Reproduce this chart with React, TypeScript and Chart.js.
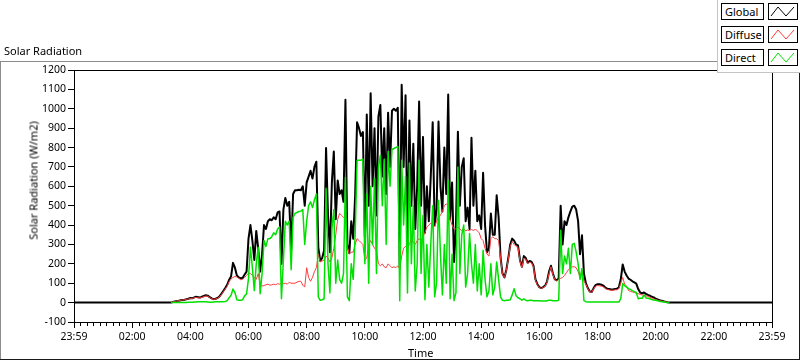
import React, { useEffect, useRef } from 'react';
import { Chart, registerables } from 'chart.js';

Chart.register(...registerables);

// Sample times: START_MIN + i * STEP_MIN (minutes after midnight)
const START_MIN = 200;
const STEP_MIN = 4;

const globalValues = [
  0, 3, 6, 9, 10, 12, 14, 15, 17, 20,
  24, 22, 27, 30, 28, 26, 30, 34, 38, 36,
  28, 22, 18, 20, 24, 32, 45, 60, 75, 92,
  118, 135, 205, 180, 140, 130, 125, 128, 145, 160,
  330, 400, 320, 220, 370, 280, 160, 250, 400, 380,
  420, 430, 425, 440, 430, 465, 470, 200, 480, 540,
  500, 520, 270, 560, 580, 580, 582, 580, 600, 500,
  620, 650, 680, 640, 700, 727, 285, 215, 230, 270,
  798, 450, 260, 620, 779, 430, 630, 560, 580, 520,
  1046, 300, 255, 420, 330, 550, 930, 900, 860, 880,
  340, 970, 500, 1080, 600, 900, 450, 960, 1020, 650,
  900, 560, 980, 700, 990, 1000, 990, 1005, 180, 1124,
  700, 1070, 300, 940, 500, 820, 380, 600, 1037, 500,
  855, 360, 600, 420, 650, 930, 400, 480, 934, 600,
  470, 800, 560, 1073, 430, 620, 210, 400, 882, 500,
  700, 745, 420, 490, 380, 850, 500, 680, 420, 450,
  380, 670, 400, 260, 280, 460, 350, 350, 554, 440,
  233, 150, 130, 170, 230, 300, 330, 320, 300, 295,
  220, 185, 240, 230, 205, 215, 210, 190, 120, 95,
  80, 75, 80, 88, 110, 160, 190, 150, 120, 115,
  125, 500, 300, 420, 400, 440, 470, 495, 500, 480,
  420, 250, 347, 150, 100, 75, 57, 55, 75, 90,
  95, 95, 92, 88, 78, 72, 70, 68, 68, 70,
  72, 78, 120, 197, 160, 140, 124, 118, 110, 104,
  98, 70, 52, 48, 52, 45, 40, 36, 30, 27,
  20, 16, 12, 10, 7, 4, 2, 0,
];

const diffuseValues = [
  0, 3, 6, 9, 10, 12, 14, 15, 16, 19,
  22, 21, 25, 27, 25, 24, 27, 31, 34, 33,
  26, 20, 17, 19, 22, 29, 41, 56, 70, 85,
  108, 122, 130, 135, 132, 125, 118, 120, 130, 140,
  152, 150, 140, 130, 120, 150, 95, 85, 88, 92,
  95, 90, 92, 95, 92, 98, 95, 100, 98, 100,
  95, 105, 100, 100, 100, 105, 110, 110, 90, 80,
  180, 130, 110, 130, 160, 180, 250, 210, 215, 220,
  240, 230, 210, 230, 280, 350, 430, 460, 450, 440,
  430, 290, 250, 260, 260, 300, 330, 320, 310, 300,
  220, 230, 300, 320, 300, 280, 270, 200, 190, 200,
  185, 180, 200, 190, 180, 185, 180, 190, 175, 240,
  280, 290, 280, 300, 330, 310, 300, 320, 330, 320,
  340, 360, 390, 400, 410, 400, 390, 420, 440, 450,
  470, 500, 510, 500, 430, 400, 380, 380, 390, 380,
  370, 380, 370, 375, 370, 380, 370, 380, 370, 360,
  330, 320, 280, 250, 240, 330, 340, 330, 330, 320,
  230, 145, 130, 165, 225, 290, 315, 300, 290, 285,
  215, 180, 230, 225, 200, 210, 205, 185, 115, 92,
  78, 73, 78, 85, 105, 150, 185, 145, 118, 112,
  120, 125, 130, 140, 155, 170, 180, 185, 185, 180,
  160, 130, 166, 110, 95, 72, 55, 53, 72, 85,
  88, 87, 85, 82, 72, 68, 66, 64, 64, 66,
  66, 72, 100, 130, 95, 85, 62, 58, 55, 52,
  48, 46, 42, 40, 38, 35, 32, 28, 24, 20,
  16, 13, 10, 8, 6, 4, 2, 0,
];

const directValues = [
  0, 0, 0, 0, 0, 0, 1, 1, 1, 2,
  2, 2, 3, 3, 5, 4, 4, 4, 4, 3,
  2, 2, 3, 4, 4, 5, 5, 5, 6, 10,
  25, 38, 70, 52, 15, 12, 12, 15, 35, 45,
  125, 285, 180, 62, 200, 285, 46, 150, 320, 290,
  330, 330, 340, 360, 350, 380, 390, 20, 220, 420,
  400, 420, 170, 440, 460, 465, 470, 472, 480, 300,
  420, 500, 520, 490, 530, 560, 30, 12, 15, 20,
  590, 200, 50, 380, 480, 100, 220, 120, 100, 150,
  647, 30, 10, 200, 120, 350, 735, 735, 735, 740,
  200, 560, 100, 600, 300, 640, 150, 700, 760, 500,
  740, 300, 780, 600, 790, 795, 800, 805, 10, 735,
  400, 650, 50, 720, 200, 500, 60, 200, 735, 150,
  450, 15, 300, 80, 300, 500, 30, 100, 528, 250,
  40, 300, 100, 630, 20, 250, 10, 50, 700, 150,
  350, 400, 80, 150, 356, 200, 100, 300, 60, 200,
  40, 270, 120, 30, 60, 200, 40, 80, 210, 120,
  30, 12, 10, 12, 12, 15, 40, 72, 35, 25,
  20, 12, 20, 12, 10, 12, 12, 10, 10, 10,
  10, 8, 8, 8, 10, 12, 12, 10, 10, 10,
  12, 373, 150, 240, 200, 280, 150, 300, 306, 260,
  200, 120, 176, 10, 5, 3, 3, 3, 3, 3,
  3, 3, 3, 3, 3, 3, 3, 3, 3, 3,
  3, 3, 20, 98, 88, 80, 72, 68, 62, 57,
  52, 20, 22, 22, 40, 24, 22, 20, 16, 14,
  12, 10, 7, 5, 4, 2, 1, 0,
];

const xTickMinutes = [0, 120, 240, 360, 480, 600, 720, 840, 960, 1080, 1200, 1320, 1440];
const xTickLabels = ['23:59', '02:00', '04:00', '06:00', '08:00', '10:00', '12:00', '14:00', '16:00', '18:00', '20:00', '22:00', '23:59'];
const X_MINOR_PER_MAJOR = 9;

const Y_MIN = -100;
const Y_MAX = 1200;
const Y_STEP = 100;

const seriesNames = ['Global', 'Diffuse', 'Direct'];
const seriesColors = ['#000000', '#ff3c3c', '#00e000'];

const FONT = "'Noto Sans', sans-serif";

function toPoints(vals: number[]) {
  return vals.map((v, i) => ({ x: START_MIN + i * STEP_MIN, y: v }));
}

const framePlugin = {
  id: 'labviewFrame',
  afterDraw(chart: any) {
    const ctx = chart.ctx;
    const xs = chart.scales.x;
    const { left, top, right, bottom } = chart.chartArea;
    ctx.save();
    ctx.strokeStyle = '#000';
    ctx.lineWidth = 1;
    ctx.beginPath();
    for (let m = 0; m < xTickMinutes.length - 1; m++) {
      const a = xTickMinutes[m];
      const b = xTickMinutes[m + 1];
      for (let k = 1; k < X_MINOR_PER_MAJOR; k++) {
        const v = a + ((b - a) * k) / X_MINOR_PER_MAJOR;
        const px = Math.round(xs.getPixelForValue(v)) + 0.5;
        ctx.moveTo(px, bottom);
        ctx.lineTo(px, bottom + 4);
      }
    }
    ctx.stroke();
    ctx.strokeRect(Math.round(left) + 0.5, Math.round(top) + 0.5, Math.round(right - left), Math.round(bottom - top));
    ctx.restore();
  },
};

export default function App() {
  const canvasRef = useRef<HTMLCanvasElement>(null);

  useEffect(() => {
    document.body.style.margin = '0';
    const canvas = canvasRef.current;
    if (!canvas) return;
    const chart = new Chart(canvas, {
      type: 'line',
      data: {
        datasets: [
          {
            label: seriesNames[2],
            data: toPoints(directValues),
            borderColor: seriesColors[2],
            borderWidth: 1.5,
            order: 1,
          },
          {
            label: seriesNames[1],
            data: toPoints(diffuseValues),
            borderColor: seriesColors[1],
            borderWidth: 1,
            order: 2,
          },
          {
            label: seriesNames[0],
            data: [
              { x: xTickMinutes[0], y: 0 },
              ...toPoints(globalValues),
              { x: xTickMinutes[xTickMinutes.length - 1], y: 0 },
            ],
            borderColor: seriesColors[0],
            borderWidth: 2,
            order: 3,
          },
        ] as any,
      },
      options: {
        animation: false,
        responsive: false,
        devicePixelRatio: 1,
        layout: { padding: { left: 0, top: 70, right: 28, bottom: 0 } },
        plugins: {
          legend: { display: false },
          tooltip: { enabled: false },
          title: { display: false },
        },
        elements: {
          point: { radius: 0 },
          line: { tension: 0, borderJoinStyle: 'round' as any },
        },
        scales: {
          x: {
            type: 'linear',
            min: xTickMinutes[0],
            max: xTickMinutes[xTickMinutes.length - 1],
            afterBuildTicks: (s: any) => {
              s.ticks = xTickMinutes.map((v) => ({ value: v }));
            },
            afterFit: (s: any) => {
              s.height = 39;
            },
            ticks: {
              autoSkip: false,
              maxRotation: 0,
              minRotation: 0,
              color: '#000',
              font: { family: FONT, size: 10.5 },
              padding: 3,
              callback: (_v: any, i: number) => xTickLabels[i],
            },
            grid: { drawOnChartArea: false, drawTicks: true, tickLength: 6, color: '#000' },
            border: { display: true, color: '#000' },
          },
          y: {
            type: 'linear',
            min: Y_MIN,
            max: Y_MAX,
            afterBuildTicks: (s: any) => {
              const t = [];
              for (let v = Y_MIN; v <= Y_MAX; v += Y_STEP) t.push({ value: v });
              s.ticks = t;
            },
            afterFit: (s: any) => {
              s.width = 74;
            },
            ticks: {
              color: '#000',
              font: { family: FONT, size: 10.5 },
              padding: 2,
              callback: (v: any) => String(v),
            },
            grid: { drawOnChartArea: false, drawTicks: true, tickLength: 6, color: '#000' },
            border: { display: true, color: '#000' },
          },
        },
      } as any,
      plugins: [framePlugin],
    });
    return () => chart.destroy();
  }, []);

  const legendTops = [3, 26, 49];

  return (
    <div style={{ position: 'relative', width: 800, height: 361, background: '#fff', overflow: 'hidden', fontFamily: FONT }}>
      {/* outer frame */}
      <div style={{ position: 'absolute', left: 0, top: 61, width: 717, height: 1, background: '#8c8c8c' }} />
      <div style={{ position: 'absolute', left: 0, top: 61, width: 1, height: 299, background: '#8c8c8c' }} />
      <div style={{ position: 'absolute', left: 0, top: 359, width: 800, height: 1, background: '#1a1a1a' }} />
      <div style={{ position: 'absolute', left: 799, top: 73, width: 1, height: 287, background: '#1a1a1a' }} />

      <canvas ref={canvasRef} width={800} height={361} style={{ position: 'absolute', left: 0, top: 0, width: 800, height: 361 }} />

      <div style={{ position: 'absolute', left: 4, top: 43, fontSize: 11, lineHeight: '15px', color: '#000', whiteSpace: 'nowrap' }}>
        Solar Radiation
      </div>
      <div style={{ position: 'absolute', left: 408, top: 345, fontSize: 11, lineHeight: '15px', color: '#000', whiteSpace: 'nowrap' }}>
        Time
      </div>
      <div
        style={{
          position: 'absolute',
          left: 33 - 100,
          top: 180 - 7.5,
          width: 200,
          height: 15,
          fontSize: 11,
          lineHeight: '15px',
          textAlign: 'center',
          color: '#000',
          whiteSpace: 'nowrap',
          transform: 'rotate(-90deg)',
          transformOrigin: '50% 50%',
        }}
      >
        Solar Radiation (W/m2)
      </div>

      {/* legend */}
      <div
        style={{
          position: 'absolute',
          left: 717,
          top: 0,
          width: 83,
          height: 73,
          background: '#fff',
          borderLeft: '1px solid #c4c4c4',
          borderBottom: '1px solid #c4c4c4',
          boxSizing: 'border-box',
        }}
      >
        {seriesNames.map((name, i) => (
          <React.Fragment key={name}>
            <div
              style={{
                position: 'absolute',
                left: 3,
                top: legendTops[i],
                width: 43,
                height: 17,
                border: '1px solid #000',
                boxSizing: 'border-box',
                fontSize: 11,
                lineHeight: '15px',
                paddingLeft: 3,
                paddingTop: 0,
                color: '#000',
                whiteSpace: 'nowrap',
              }}
            >
              {name}
            </div>
            <div
              style={{
                position: 'absolute',
                left: 50,
                top: legendTops[i],
                width: 30,
                height: 17,
                border: '1px solid #000',
                boxSizing: 'border-box',
              }}
            >
              <svg width={28} height={15} style={{ display: 'block' }}>
                <polyline points="2,12 9,3 17,12 25,3" fill="none" stroke={seriesColors[i]} strokeWidth={1} />
              </svg>
            </div>
          </React.Fragment>
        ))}
      </div>
    </div>
  );
}
